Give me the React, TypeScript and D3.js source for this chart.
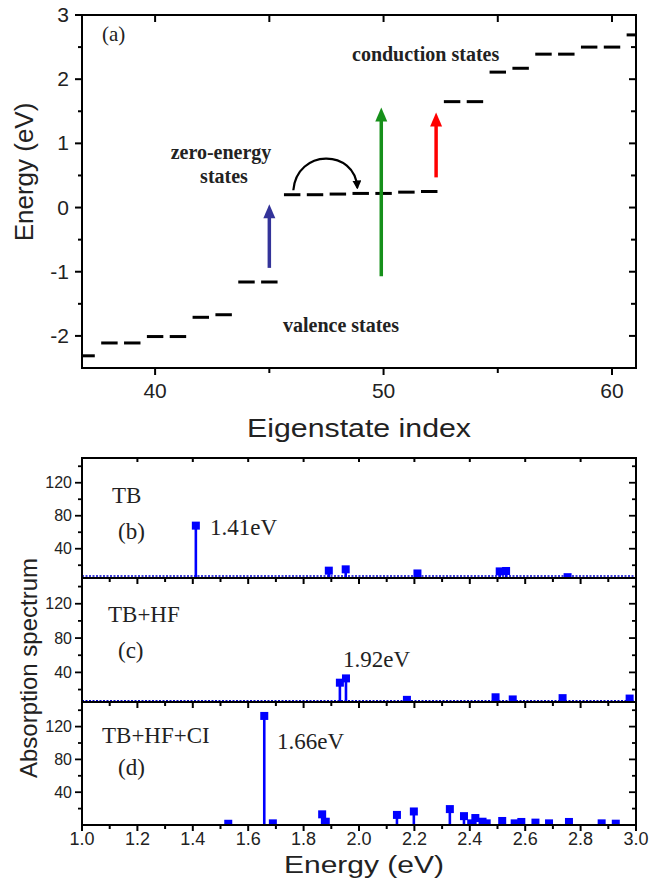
import React from "react";
import * as d3 from "d3";

// ---- (a) eigenstate energies ----
const levelIndex = [37, 38, 39, 40, 41, 42, 43, 44, 45, 46, 47, 48, 49, 50, 51, 52, 53, 54, 55, 56, 57, 58, 59, 60, 61];
const levelEnergy = [-2.31, -2.11, -2.11, -2.01, -2.01, -1.71, -1.67, -1.16, -1.16, 0.2, 0.2, 0.21, 0.22, 0.22, 0.24, 0.25, 1.65, 1.65, 2.11, 2.17, 2.39, 2.39, 2.5, 2.5, 2.69];

// transition arrows
const arrowIndex = [45, 49.9, 52.3];
const arrowFrom = [-0.94, -1.07, 0.47];
const arrowTo = [0.05, 1.56, 1.48];
const arrowColor = ["#333399", "#16901a", "#ff0000"];

// hop arrow between zero-energy states (index, energy)
const hopStart = [46.05, 0.27];
const hopCtrl1 = [46.2, 0.92];
const hopCtrl2 = [48.75, 0.92];
const hopEnd = [48.85, 0.31];

const yTicksA = [-2, -1, 0, 1, 2, 3];
const yMinorA = [-1.5, -0.5, 0.5, 1.5, 2.5];
const xTicksA = [40, 50, 60];
const xMinorA = [45, 55];

// ---- (b)-(d) absorption spectra ----
const tbEnergy = [1.411, 1.891, 1.952, 2.211, 2.508, 2.531, 2.753];
const tbValue = [68, 13.4, 15, 10, 12.5, 13, 5.5];

const hfEnergy = [1.931, 1.953, 2.173, 2.493, 2.555, 2.735, 2.977];
const hfValue = [28, 33, 8, 11, 8.5, 10, 9.5];

const ciEnergy = [1.528, 1.658, 1.689, 1.867, 1.88, 2.137, 2.198, 2.328, 2.379, 2.405, 2.42, 2.446, 2.461, 2.517, 2.562, 2.586, 2.637, 2.686, 2.758, 2.876, 2.927];
const ciValue = [1.5, 133, 2, 13, 4, 12.3, 16.5, 19.4, 10.8, 2, 8.5, 4, 2, 4.9, 2, 3.7, 2.9, 2, 3.7, 2, 1.6];

const yTicksB = [40, 80, 120];
const yMinorB = [20, 60, 100, 140];
const xTicksB = d3.range(0, 11).map(i => 1 + i * 0.2);
const xMinorB = d3.range(0, 10).map(i => 1.1 + i * 0.2);

const serif = "Liberation Serif, Times New Roman, serif";

export default function App() {
    // top panel
    const xA = d3.scaleLinear().domain([36.8, 61.05]).range([82, 636]);
    const yA = d3.scaleLinear().domain([-2.5, 3]).range([368, 15]);
    const dashHalf = 0.36;

    // bottom panels
    const xB = d3.scaleLinear().domain([1, 3]).range([82, 636]);
    const panels = [
        {id: "b", energy: tbEnergy, value: tbValue, top: 458, bottom: 578, min: 4.5, base: true,
            name: "TB", nameX: 112, nameY: 503, tag: "(b)", tagY: 539, peak: "1.41eV", peakX: 210, peakY: 535},
        {id: "c", energy: hfEnergy, value: hfValue, top: 578, bottom: 702, min: 5.5, base: true,
            name: "TB+HF", nameX: 108, nameY: 622, tag: "(c)", tagY: 658, peak: "1.92eV", peakX: 343, peakY: 667},
        {id: "d", energy: ciEnergy, value: ciValue, top: 702, bottom: 825, min: 0, base: false,
            name: "TB+HF+CI", nameX: 102, nameY: 743, tag: "(d)", tagY: 775, peak: "1.66eV", peakX: 277, peakY: 749}
    ];

    const hopPath = d3.path();
    hopPath.moveTo(xA(hopStart[0]), yA(hopStart[1]));
    hopPath.bezierCurveTo(xA(hopCtrl1[0]), yA(hopCtrl1[1]), xA(hopCtrl2[0]), yA(hopCtrl2[1]), xA(hopEnd[0]), yA(hopEnd[1]));

    const left = 82, right = 636;

    return (
        <svg width={650} height={885} style={{position: "absolute", left: 0, top: 0, background: "#fff"}}
             fontFamily="Liberation Sans, Arial, sans-serif">
            <defs>
                <clipPath id="clipA">
                    <rect x={left} y={15} width={right - left} height={353}/>
                </clipPath>
                {panels.map(p => (
                    <clipPath key={p.id} id={"clip" + p.id}>
                        <rect x={left} y={p.top} width={right - left} height={p.bottom - p.top}/>
                    </clipPath>
                ))}
                <marker id="hopHead" viewBox="0 0 10 10" refX="8" refY="5" markerWidth="9" markerHeight="9"
                        markerUnits="userSpaceOnUse" orient="auto">
                    <path d="M0,0 L10,5 L0,10 z" fill="#000"/>
                </marker>
            </defs>

            {/* ---------- (a) ---------- */}
            <g clipPath="url(#clipA)">
                {levelIndex.map((idx, i) => (
                    <line key={idx} x1={xA(idx - dashHalf)} x2={xA(idx + dashHalf)}
                          y1={yA(levelEnergy[i])} y2={yA(levelEnergy[i])} stroke="#000" strokeWidth={3}/>
                ))}
            </g>
            {arrowIndex.map((idx, i) => {
                const x = xA(idx), y0 = yA(arrowFrom[i]), y1 = yA(arrowTo[i]);
                return (
                    <g key={i}>
                        <line x1={x} x2={x} y1={y0} y2={y1 + 12} stroke={arrowColor[i]} strokeWidth={3.5}/>
                        <path d={`M${x},${y1} L${x - 6},${y1 + 14} L${x + 6},${y1 + 14} Z`} fill={arrowColor[i]}/>
                    </g>
                );
            })}
            <path d={hopPath.toString()} fill="none" stroke="#000" strokeWidth={2.2} markerEnd="url(#hopHead)"/>

            <rect x={left} y={15} width={right - left} height={353} fill="none" stroke="#000" strokeWidth={2}/>
            {yTicksA.map(t => (
                <g key={t}>
                    <line x1={left - 7} x2={left} y1={yA(t)} y2={yA(t)} stroke="#000" strokeWidth={2}/>
                    <line x1={right - 7} x2={right} y1={yA(t)} y2={yA(t)} stroke="#000" strokeWidth={2}/>
                    <text x={69} y={yA(t) + 7} fontSize={21} textAnchor="end" fill="#222">{t}</text>
                </g>
            ))}
            {yMinorA.map(t => (
                <g key={t}>
                    <line x1={left - 4} x2={left} y1={yA(t)} y2={yA(t)} stroke="#000" strokeWidth={2}/>
                    <line x1={right - 5} x2={right} y1={yA(t)} y2={yA(t)} stroke="#000" strokeWidth={2}/>
                </g>
            ))}
            {xTicksA.map(t => (
                <g key={t}>
                    <line x1={xA(t)} x2={xA(t)} y1={368} y2={375} stroke="#000" strokeWidth={2}/>
                    <line x1={xA(t)} x2={xA(t)} y1={15} y2={22} stroke="#000" strokeWidth={2}/>
                    <text x={xA(t)} y={398} fontSize={21} textAnchor="middle" fill="#222">{t}</text>
                </g>
            ))}
            {xMinorA.map(t => (
                <g key={t}>
                    <line x1={xA(t)} x2={xA(t)} y1={368} y2={373} stroke="#000" strokeWidth={2}/>
                    <line x1={xA(t)} x2={xA(t)} y1={15} y2={22} stroke="#000" strokeWidth={2}/>
                </g>
            ))}
            <text x={247} y={437} fontSize={26} fill="#222" textLength={224}
                  lengthAdjust="spacingAndGlyphs">Eigenstate index</text>
            <text transform="translate(33,172) rotate(-90)" fontSize={26} textAnchor="middle"
                  fill="#222">Energy (eV)</text>

            <g fontFamily={serif} fill="#222">
                <text x={102} y={41} fontSize={21}>(a)</text>
                <g fontWeight="bold" fontSize={20}>
                    <text x={352} y={61}>conduction states</text>
                    <text x={221} y={159} textAnchor="middle">zero-energy</text>
                    <text x={224} y={183} textAnchor="middle">states</text>
                    <text x={341} y={332} textAnchor="middle">valence states</text>
                </g>
            </g>

            {/* ---------- (b)-(d) ---------- */}
            {panels.map((p, pi) => {
                const y = d3.scaleLinear().domain([p.min, 150]).range([p.bottom, p.top]);
                return (
                    <g key={p.id}>
                        <g clipPath={`url(#clip${p.id})`}>
                            {p.base && (
                                <line x1={left} x2={right} y1={y(7)} y2={y(7)} stroke="#0000cc"
                                      strokeWidth={1.5} strokeDasharray="2,1.5"/>
                            )}
                            {p.energy.map((e, i) => (
                                <g key={i}>
                                    <line x1={xB(e)} x2={xB(e)} y1={p.bottom} y2={y(p.value[i])} stroke="#0000ff"
                                          strokeWidth={2.6}/>
                                    <rect x={xB(e) - 4} y={y(p.value[i]) - 4} width={8} height={8} fill="#0000ff"/>
                                </g>
                            ))}
                        </g>
                        <rect x={left} y={p.top} width={right - left} height={p.bottom - p.top} fill="none"
                              stroke="#000" strokeWidth={2}/>
                        {yTicksB.map(t => (
                            <g key={t}>
                                <line x1={left - 7} x2={left} y1={y(t)} y2={y(t)} stroke="#000" strokeWidth={1.8}/>
                                <line x1={right - 7} x2={right} y1={y(t)} y2={y(t)} stroke="#000" strokeWidth={1.8}/>
                                <text x={72} y={y(t) + 5.5} fontSize={16} textAnchor="end" fill="#222">{t}</text>
                            </g>
                        ))}
                        {yMinorB.map(t => (
                            <g key={t}>
                                <line x1={left - 4} x2={left} y1={y(t)} y2={y(t)} stroke="#000" strokeWidth={1.8}/>
                                <line x1={right - 4} x2={right} y1={y(t)} y2={y(t)} stroke="#000" strokeWidth={1.8}/>
                            </g>
                        ))}
                        {xTicksB.map(t => (
                            <g key={t}>
                                <line x1={xB(t)} x2={xB(t)} y1={p.bottom} y2={p.bottom + 6} stroke="#000"
                                      strokeWidth={2}/>
                                {pi === 0 && (
                                    <line x1={xB(t)} x2={xB(t)} y1={p.top} y2={p.top + 4} stroke="#000"
                                          strokeWidth={2}/>
                                )}
                                {pi === 2 && (
                                    <text x={xB(t)} y={845} fontSize={18} textAnchor="middle" fill="#222">
                                        {d3.format(".1f")(t)}
                                    </text>
                                )}
                            </g>
                        ))}
                        {xMinorB.map(t => (
                            <line key={t} x1={xB(t)} x2={xB(t)} y1={p.bottom} y2={p.bottom + 4} stroke="#000"
                                  strokeWidth={2}/>
                        ))}
                        <g fontFamily={serif} fontSize={23} fill="#222">
                            <text x={p.nameX} y={p.nameY}>{p.name}</text>
                            <text x={118} y={p.tagY}>{p.tag}</text>
                            <text x={p.peakX} y={p.peakY}>{p.peak}</text>
                        </g>
                    </g>
                );
            })}
            <text x={284} y={873} fontSize={23} fill="#222" textLength={160}
                  lengthAdjust="spacingAndGlyphs">Energy (eV)</text>
            <text transform="translate(37,668) rotate(-90)" fontSize={24} textAnchor="middle"
                  fill="#222">Absorption spectrum</text>
        </svg>
    );
}
